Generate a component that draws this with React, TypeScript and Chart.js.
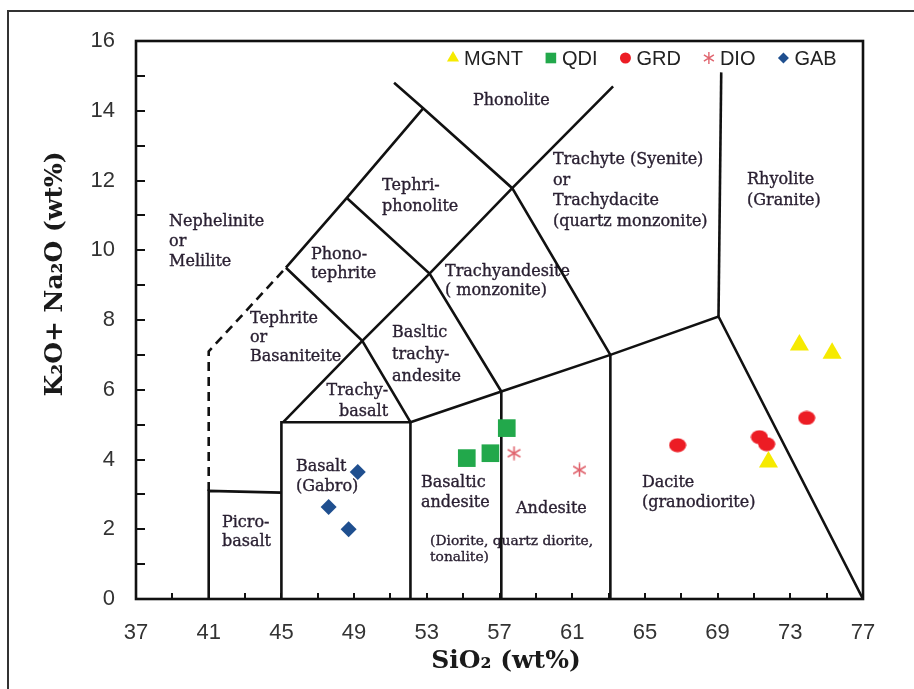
import { useEffect, useRef } from 'react';
import { Chart, registerables } from 'chart.js';
import { drawPoint } from 'chart.js/helpers';

Chart.register(...registerables);

// Axis ranges and tick labels
const X_MIN = 37;
const X_MAX = 77;
const Y_MIN = 0;
const Y_MAX = 16;
const xTickLabels = [37, 41, 45, 49, 53, 57, 61, 65, 69, 73, 77];
const yTickLabels = [0, 2, 4, 6, 8, 10, 12, 14, 16];

// Sample compositions: SiO2 (wt%) and total alkali K2O+Na2O (wt%)
const mgntSiO2 = [73.5, 75.3, 71.8];
const mgntAlkali = [7.28, 7.05, 3.93];
const qdiSiO2 = [55.2, 56.5, 57.4];
const qdiAlkali = [4.04, 4.18, 4.9];
const grdSiO2 = [66.8, 71.3, 71.7, 73.9];
const grdAlkali = [4.41, 4.64, 4.44, 5.19];
const dioSiO2 = [57.8, 61.4];
const dioAlkali = [4.18, 3.7];
const gabSiO2 = [49.2, 47.6, 48.7];
const gabAlkali = [3.64, 2.64, 2.0];

// TAS field boundaries as [SiO2, alkali] polylines
const solidBoundaries: number[][][] = [
  [[41, 0], [41, 3.1], [45, 3.05]],
  [[45, 0], [45, 5.07], [52.1, 5.07], [52.1, 0]],
  [[52.1, 5.07], [57.1, 5.95], [63.1, 7.0], [69.05, 8.1], [77, 0]],
  [[57.1, 0], [57.1, 5.95]],
  [[63.1, 0], [63.1, 7.0]],
  [[69.05, 8.1], [69.2, 15.1]],
  [[45.1, 5.07], [49.45, 7.4], [53.15, 9.33], [57.7, 11.78], [63.25, 14.7]],
  [[52.1, 5.07], [49.45, 7.4], [45.25, 9.5]],
  [[57.1, 5.95], [53.15, 9.33], [48.6, 11.5]],
  [[63.1, 7.0], [57.7, 11.78], [52.8, 14.07], [51.2, 14.8]],
  [[45.25, 9.5], [48.6, 11.5], [52.8, 14.07]],
];
const dashedBoundaries: number[][][] = [
  [[41, 3.1], [41, 7.1], [45.25, 9.5]],
];

// Field names, anchored at [SiO2, alkali] of the first line
const fieldLabels: { lines: string[]; at: number[]; align?: CanvasTextAlign; size?: number; gap?: number }[] = [
  { lines: ['Phonolite'], at: [55.54, 14.28] },
  { lines: ['Nephelinite', 'or', 'Melilite'], at: [38.82, 10.81], gap: 20 },
  { lines: ['Tephri-', 'phonolite'], at: [50.54, 11.84], gap: 21 },
  { lines: ['Phono-', 'tephrite'], at: [46.63, 9.86], gap: 19 },
  { lines: ['Tephrite', 'or', 'Basaniteite'], at: [43.27, 8.03], gap: 19 },
  { lines: ['Basltic', 'trachy-', 'andesite'], at: [51.09, 7.63], gap: 22 },
  { lines: ['Trachy-', 'basalt'], at: [50.87, 5.97], align: 'right', gap: 21 },
  { lines: ['Trachyandesite', '( monzonite)'], at: [54.0, 9.38], gap: 19 },
  { lines: ['Trachyte (Syenite)', 'or', 'Trachydacite', '(quartz monzonite)'], at: [59.94, 12.59], gap: 20.7 },
  { lines: ['Rhyolite', '(Granite)'], at: [70.62, 12.01], gap: 21 },
  { lines: ['Basalt', '(Gabro)'], at: [45.8, 3.79], gap: 20 },
  { lines: ['Picro-', 'basalt'], at: [41.73, 2.18], gap: 19 },
  { lines: ['Basaltic', 'andesite'], at: [52.68, 3.33], gap: 20 },
  { lines: ['(Diorite, quartz diorite,', 'tonalite)'], at: [53.18, 1.66], size: 13.8, gap: 16 },
  { lines: ['Andesite'], at: [57.91, 2.58] },
  { lines: ['Dacite', '(granodiorite)'], at: [64.84, 3.33], gap: 20 },
];

const SERIF = '"DejaVu Serif", serif';
const SANS = '"Liberation Sans", Arial, sans-serif';

function makeEllipse(w: number, h: number, color: string) {
  const c = document.createElement('canvas');
  c.width = w;
  c.height = h;
  const g = c.getContext('2d')!;
  g.fillStyle = color;
  g.beginPath();
  g.ellipse(w / 2, h / 2, w / 2 - 0.5, h / 2 - 0.5, 0, 0, Math.PI * 2);
  g.fill();
  return c;
}

function makeAsterisk(s: number, color: string) {
  const c = document.createElement('canvas');
  c.width = s;
  c.height = s;
  const g = c.getContext('2d')!;
  g.strokeStyle = color;
  g.lineWidth = 1.6;
  g.beginPath();
  g.moveTo(s / 2, 0.5);
  g.lineTo(s / 2, s - 0.5);
  const dx = s * 0.42;
  const dy = s * 0.25;
  g.moveTo(s / 2 - dx, s / 2 - dy);
  g.lineTo(s / 2 + dx, s / 2 + dy);
  g.moveTo(s / 2 - dx, s / 2 + dy);
  g.lineTo(s / 2 + dx, s / 2 - dy);
  g.stroke();
  return c;
}

const toPoints = (xs: number[], ys: number[]) => xs.map((x, i) => ({ x, y: ys[i] }));

export default function App() {
  const canvasRef = useRef<HTMLCanvasElement | null>(null);

  useEffect(() => {
    if (!canvasRef.current) return;

    const yellow = '#f6ea00';
    const green = '#22a84b';
    const red = '#ec1c24';
    const pink = '#e0646e';
    const blue = '#1f4f8f';

    const grdMarker = makeEllipse(18, 15, red);
    const dioMarker = makeAsterisk(15, pink);

    const boundarySets = [
      ...solidBoundaries.map((line) => ({
        data: line.map(([x, y]) => ({ x, y })),
        showLine: true,
        borderColor: '#111',
        borderWidth: 2.6,
        pointRadius: 0,
        fill: false,
        order: 2,
      })),
      ...dashedBoundaries.map((line) => ({
        data: line.map(([x, y]) => ({ x, y })),
        showLine: true,
        borderColor: '#111',
        borderWidth: 2.6,
        borderDash: [9, 6],
        pointRadius: 0,
        fill: false,
        order: 2,
      })),
    ];

    const samples = [
      { label: 'MGNT', data: toPoints(mgntSiO2, mgntAlkali), pointStyle: 'triangle', pointRadius: 11, backgroundColor: yellow, borderColor: yellow, borderWidth: 0, order: 0 },
      { label: 'QDI', data: toPoints(qdiSiO2, qdiAlkali), pointStyle: 'rect', pointRadius: 12.5, backgroundColor: green, borderColor: green, borderWidth: 0, order: 0 },
      { label: 'GRD', data: toPoints(grdSiO2, grdAlkali), pointStyle: grdMarker, pointRadius: 9, backgroundColor: red, borderColor: red, borderWidth: 0, order: 0 },
      { label: 'DIO', data: toPoints(dioSiO2, dioAlkali), pointStyle: dioMarker, pointRadius: 8, backgroundColor: pink, borderColor: pink, borderWidth: 0, order: 0 },
      { label: 'GAB', data: toPoints(gabSiO2, gabAlkali), pointStyle: 'rectRot', pointRadius: 8, backgroundColor: blue, borderColor: blue, borderWidth: 0, order: 0 },
    ];

    // Legend entries drawn inside the plot area
    const legendEntries = [
      { label: 'MGNT', style: 'triangle', radius: 7, color: yellow },
      { label: 'QDI', style: 'rect', radius: 7.5, color: green },
      { label: 'GRD', style: 'circle', radius: 5.5, color: red },
      { label: 'DIO', style: 'asterisk', radius: 6, color: pink },
      { label: 'GAB', style: 'rectRot', radius: 5.5, color: blue },
    ];

    const tasPlugin = {
      id: 'tasDecor',
      beforeDraw(chart: any) {
        const { ctx, width, height } = chart;
        ctx.save();
        ctx.fillStyle = '#fff';
        ctx.fillRect(0, 0, width, height);
        ctx.strokeStyle = '#333';
        ctx.lineWidth = 2;
        ctx.beginPath();
        ctx.moveTo(8, height);
        ctx.lineTo(8, 11);
        ctx.lineTo(width, 11);
        ctx.stroke();
        ctx.restore();
      },
      beforeDatasetsDraw(chart: any) {
        const { ctx, scales } = chart;
        const xs = scales.x;
        const ys = scales.y;
        ctx.save();
        ctx.fillStyle = '#2a2032';
        ctx.strokeStyle = '#2a2032';
        ctx.lineWidth = 0.35;
        ctx.textBaseline = 'middle';
        for (const f of fieldLabels) {
          ctx.font = `${f.size ?? 16}px ${SERIF}`;
          ctx.textAlign = f.align ?? 'left';
          const px = xs.getPixelForValue(f.at[0]);
          const py = ys.getPixelForValue(f.at[1]);
          f.lines.forEach((t, i) => {
            const ty = py + i * (f.gap ?? 20);
            ctx.fillText(t, px, ty);
            ctx.strokeText(t, px, ty);
          });
        }
        ctx.restore();
      },
      afterDatasetsDraw(chart: any) {
        const { ctx, chartArea, scales } = chart;
        const { left, right, top, bottom } = chartArea;
        const xs = scales.x;
        const ys = scales.y;
        ctx.save();

        // inward tick marks
        ctx.strokeStyle = '#111';
        ctx.lineWidth = 2;
        ctx.beginPath();
        for (let v = Y_MIN; v <= Y_MAX; v += 1) {
          const py = Math.round(ys.getPixelForValue(v));
          ctx.moveTo(left, py);
          ctx.lineTo(left + 9, py);
        }
        for (let v = X_MIN; v <= X_MAX; v += 2) {
          const px = Math.round(xs.getPixelForValue(v));
          ctx.moveTo(px, bottom);
          ctx.lineTo(px, bottom - 6);
        }
        ctx.stroke();

        // plot frame
        ctx.lineWidth = 2.6;
        ctx.strokeRect(left, top, right - left, bottom - top);

        // legend
        let lx = 447;
        const ly = 58;
        ctx.font = `20px ${SANS}`;
        ctx.textBaseline = 'middle';
        ctx.textAlign = 'left';
        for (const e of legendEntries) {
          const cx = lx + 6;
          ctx.fillStyle = e.color;
          ctx.strokeStyle = e.color;
          if (e.style === 'asterisk') {
            ctx.lineWidth = 1.4;
            ctx.beginPath();
            ctx.moveTo(cx, ly - 6);
            ctx.lineTo(cx, ly + 6);
            ctx.moveTo(cx - 5, ly - 3.2);
            ctx.lineTo(cx + 5, ly + 3.2);
            ctx.moveTo(cx - 5, ly + 3.2);
            ctx.lineTo(cx + 5, ly - 3.2);
            ctx.stroke();
          } else {
            drawPoint(ctx, { pointStyle: e.style as any, radius: e.radius, rotation: 0, borderWidth: 0 }, cx, ly);
          }
          ctx.fillStyle = '#222';
          const tx = lx + 17;
          ctx.fillText(e.label, tx, ly + 1);
          lx = tx + ctx.measureText(e.label).width + 22;
        }

        // axis titles
        ctx.fillStyle = '#1a1a1a';
        ctx.font = `bold 25px ${SERIF}`;
        ctx.textAlign = 'center';
        ctx.textBaseline = 'middle';
        ctx.fillText('SiO\u2082 (wt%)', 506, 661);
        ctx.translate(55, 274);
        ctx.rotate(-Math.PI / 2);
        ctx.fillText('K\u2082O+ Na\u2082O (wt%)', 0, 0);

        ctx.restore();
      },
    };

    const chart = new Chart(canvasRef.current, {
      type: 'scatter',
      data: { datasets: [...samples, ...boundarySets] as any },
      options: {
        responsive: false,
        animation: false,
        layout: { padding: { left: 0, top: 41, right: 51, bottom: 0 } },
        plugins: {
          legend: { display: false },
          tooltip: { enabled: false },
        },
        scales: {
          x: {
            type: 'linear',
            min: X_MIN,
            max: X_MAX,
            grid: { display: false, drawTicks: false },
            border: { display: false },
            ticks: {
              font: { family: SANS, size: 22 },
              color: '#333',
              padding: 21,
              autoSkip: false,
              maxRotation: 0,
            },
            afterBuildTicks: (s: any) => {
              s.ticks = xTickLabels.map((value) => ({ value }));
            },
            afterFit: (s: any) => {
              s.height = 90;
            },
          },
          y: {
            type: 'linear',
            min: Y_MIN,
            max: Y_MAX,
            grid: { display: false, drawTicks: false },
            border: { display: false },
            ticks: {
              font: { family: SANS, size: 22 },
              color: '#333',
              padding: 21,
              autoSkip: false,
            },
            afterBuildTicks: (s: any) => {
              s.ticks = yTickLabels.map((value) => ({ value }));
            },
            afterFit: (s: any) => {
              s.width = 136;
            },
          },
        },
      },
      plugins: [tasPlugin],
    });

    return () => chart.destroy();
  }, []);

  return (
    <div style={{ position: 'absolute', left: 0, top: 0, width: 914, height: 689, background: '#fff' }}>
      <canvas ref={canvasRef} width={914} height={689} style={{ display: 'block' }} />
    </div>
  );
}
